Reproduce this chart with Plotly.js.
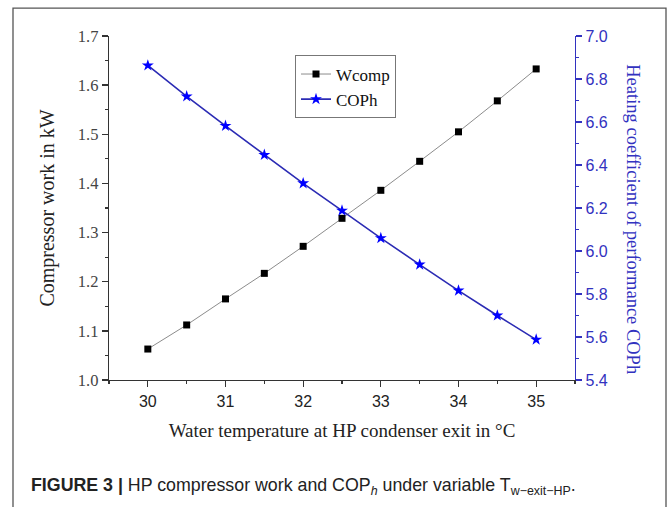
<!DOCTYPE html>
<html>
<head>
<meta charset="utf-8">
<script src="https://cdn.plot.ly/plotly-3.0.1.min.js"></script>
<style>
  html, body { margin: 0; padding: 0; background: #ffffff; }
  #chart { width: 669px; height: 507px; }
</style>
</head>
<body>
<div id="chart"></div>
<script>
// Water temperature at HP condenser exit (°C)
const waterTemp = [30, 30.5, 31, 31.5, 32, 32.5, 33, 33.5, 34, 34.5, 35];
// Compressor work (kW)
const wcomp = [1.063, 1.112, 1.165, 1.217, 1.272, 1.329, 1.386, 1.445, 1.505, 1.568, 1.633];
// Heating coefficient of performance
const coph = [6.863, 6.719, 6.582, 6.447, 6.315, 6.188, 6.060, 5.937, 5.816, 5.700, 5.588];

const xTickVals = [30, 31, 32, 33, 34, 35];
const yLeftTicks = [1.0, 1.1, 1.2, 1.3, 1.4, 1.5, 1.6, 1.7];
const yRightTicks = [5.4, 5.6, 5.8, 6.0, 6.2, 6.4, 6.6, 6.8, 7.0];

const blue = '#3232c0';
const serif = '"Liberation Serif", "Times New Roman", serif';
const sans = '"Liberation Sans", Arial, sans-serif';

const traces = [
  {
    x: waterTemp, y: wcomp, name: 'Wcomp', type: 'scatter', mode: 'lines+markers',
    line: { color: '#8c8c8c', width: 1 },
    marker: { symbol: 'square', size: 7, color: '#000000' },
    xaxis: 'x', yaxis: 'y'
  },
  {
    x: waterTemp, y: coph, name: 'COPh', type: 'scatter', mode: 'lines+markers',
    line: { color: '#2b2bb4', width: 1.6 },
    marker: { symbol: 'star', size: 9, color: '#0000ff' },
    xaxis: 'x', yaxis: 'y2'
  }
];

const W = 669, H = 507;
const L = 109, R = 575, T = 35.5, B = 380;
const pw = R - L, ph = B - T;
const px = v => (v - L) / pw;
const py = v => (B - v) / ph;

const layout = {
  width: W, height: H,
  margin: { l: L, r: W - R, t: T, b: H - B, pad: 0 },
  paper_bgcolor: '#ffffff', plot_bgcolor: '#ffffff',
  showlegend: true,
  legend: {
    x: px(295), y: py(55), xanchor: 'left', yanchor: 'top',
    bgcolor: '#ffffff', bordercolor: '#777777', borderwidth: 1,
    font: { family: serif, size: 17, color: '#111111' },
    tracegroupgap: 0, itemwidth: 30
  },
  xaxis: {
    range: [29.5, 35.5], tickvals: xTickVals, ticktext: xTickVals.map(String),
    showgrid: false, zeroline: false, showline: true, linecolor: '#333333', linewidth: 1.3,
    ticks: 'outside', ticklen: 6, tickwidth: 1.3, tickcolor: '#333333',
    minor: { dtick: 0.5, tick0: 30, ticks: 'outside', ticklen: 3, tickwidth: 1.2, tickcolor: '#333333' },
    tickfont: { family: sans, size: 16, color: '#222222' },
    title: { text: 'Water temperature at HP condenser exit in °C', font: { family: serif, size: 19, color: '#222222' }, standoff: 15 }
  },
  xaxis2: {
    range: [29.5, 35.5], overlaying: 'x', side: 'top', tickvals: xTickVals,
    showticklabels: false, showgrid: false, zeroline: false,
    showline: true, linecolor: '#333333', linewidth: 1.3,
    ticks: 'inside', ticklen: 6, tickwidth: 1.3, tickcolor: '#333333',
    minor: { dtick: 0.5, tick0: 30, ticks: 'inside', ticklen: 4, tickwidth: 1.2, tickcolor: '#333333' }
  },
  yaxis: {
    range: [1.0, 1.7], tickvals: yLeftTicks, ticktext: yLeftTicks.map(v => v.toFixed(1)),
    showgrid: false, zeroline: false, showline: true, linecolor: '#333333', linewidth: 1.3,
    ticks: 'outside', ticklen: 6, tickwidth: 1.3, tickcolor: '#333333',
    minor: { dtick: 0.05, tick0: 1.0, ticks: 'outside', ticklen: 3, tickwidth: 1.2, tickcolor: '#333333' },
    tickfont: { family: serif, size: 16.5, color: '#444444' },
    title: { text: 'Compressor work in kW', font: { family: serif, size: 20, color: '#222222' }, standoff: 17 }
  },
  yaxis2: {
    range: [5.4, 7.0], overlaying: 'y', side: 'right', tickvals: yRightTicks,
    ticktext: yRightTicks.map(v => v.toFixed(1)),
    showgrid: false, zeroline: false, showline: true, linecolor: blue, linewidth: 1.3,
    ticks: 'outside', ticklen: 6, tickwidth: 1.3, tickcolor: blue,
    minor: { dtick: 0.1, tick0: 5.4, ticks: 'outside', ticklen: 3, tickwidth: 1.2, tickcolor: blue },
    tickfont: { family: sans, size: 16, color: blue }
  },
  shapes: [
    { type: 'rect', xref: 'paper', yref: 'paper', layer: 'below',
      x0: px(13), x1: px(666), y0: py(530), y1: py(7.5),
      line: { color: '#555555', width: 1.3 }, fillcolor: 'rgba(0,0,0,0)' }
  ],
  annotations: [
    { text: 'Heating coefficient of performance COPh', xref: 'paper', yref: 'paper',
      x: px(633), y: py(219), xanchor: 'center', yanchor: 'middle', textangle: 90,
      showarrow: false, font: { family: serif, size: 18.5, color: blue } },
    { text: '<b>FIGURE 3 |</b> HP compressor work and COP<sub><i>h</i></sub> under variable T<sub>w−exit−HP</sub>.',
      xref: 'paper', yref: 'paper', x: px(29), y: py(487), xanchor: 'left', yanchor: 'middle',
      showarrow: false, font: { family: sans, size: 17.8, color: '#222222' } }
  ]
};

Plotly.newPlot('chart', traces, layout, { displayModeBar: false, staticPlot: true });
</script>
</body>
</html>
